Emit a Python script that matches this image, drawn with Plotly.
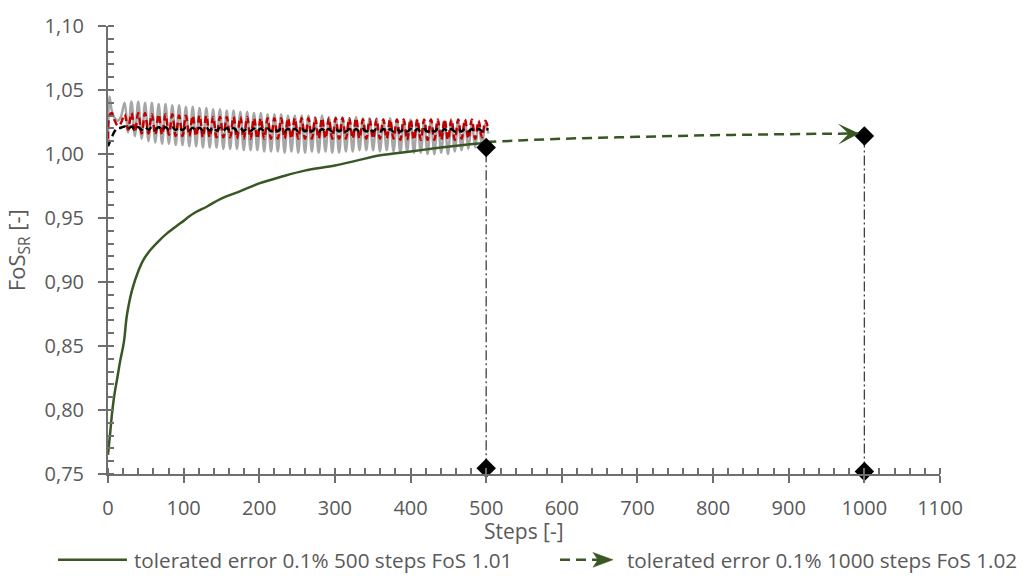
import plotly.graph_objects as go

# FoS_SR over the 500-step run (tolerated error 0.1 %)
steps_500 = [0, 3, 6, 9, 12, 16, 21, 25, 32, 41, 47, 56, 67, 78, 96, 113, 131, 149,
             175, 200, 228, 260, 300, 330, 360, 400, 440, 470, 500]
fos_500 = [0.765, 0.783, 0.801, 0.814, 0.824, 0.838, 0.853, 0.874, 0.894, 0.910, 0.9175,
           0.925, 0.932, 0.938, 0.946, 0.9535, 0.959, 0.965, 0.971, 0.977, 0.982, 0.987,
           0.991, 0.995, 0.999, 1.002, 1.005, 1.007, 1.0085]

# continuation of the run up to 1000 steps
steps_1000 = [500, 550, 600, 650, 700, 750, 800, 850, 900, 950, 993]
fos_1000 = [1.0093, 1.0107, 1.0119, 1.0127, 1.0134, 1.0141, 1.0147, 1.0151, 1.0155,
            1.0158, 1.016]

# oscillating FoS signals during the first 500 steps
steps_osc = [0, 2, 5, 9, 13, 17,
             22, 26.5, 31, 35.5, 40, 44.5, 49, 53.5, 58, 62.5, 67, 71.5, 76, 80.5,
             85, 89.5, 94, 98.5, 103, 107.5, 112, 116.5, 121, 125.5, 130, 134.5, 139, 143.5,
             148, 152.5, 157, 161.5, 166, 170.5, 175, 179.5, 184, 188.5, 193, 197.5,
             202, 206.5, 211, 215.5, 220, 224.5, 229, 233.5, 238, 242.5, 247, 251.5,
             256, 260.5, 265, 269.5, 274, 278.5, 283, 287.5, 292, 296.5, 301, 305.5,
             310, 314.5, 319, 323.5, 328, 332.5, 337, 341.5, 346, 350.5, 355, 359.5,
             364, 368.5, 373, 377.5, 382, 386.5, 391, 395.5, 400, 404.5, 409, 413.5,
             418, 422.5, 427, 431.5, 436, 440.5, 445, 449.5, 454, 458.5, 463, 467.5,
             472, 476.5, 481, 485.5, 490, 494.5, 499, 503]
fos_grey = [1.008, 1.045, 1.034, 1.028, 1.026, 1.029,
            1.040, 1.017, 1.041, 1.014, 1.041, 1.012, 1.040, 1.010, 1.040, 1.009, 1.039, 1.008, 1.039, 1.008,
            1.038, 1.007, 1.038, 1.007, 1.037, 1.006, 1.037, 1.006, 1.036, 1.005, 1.036, 1.005, 1.035, 1.005,
            1.035, 1.004, 1.034, 1.004, 1.034, 1.004, 1.033, 1.003, 1.033, 1.003, 1.032, 1.003,
            1.032, 1.002, 1.031, 1.002, 1.031, 1.002, 1.031, 1.001, 1.030, 1.002, 1.030, 1.001,
            1.030, 1.001, 1.030, 1.002, 1.029, 1.001, 1.030, 1.002, 1.029, 1.001, 1.029, 1.001,
            1.029, 1.002, 1.028, 1.002, 1.029, 1.003, 1.028, 1.003, 1.028, 1.003, 1.028, 1.002,
            1.027, 1.003, 1.028, 1.002, 1.027, 1.001, 1.027, 1.002, 1.027, 1.001, 1.027, 1.001,
            1.026, 1.000, 1.027, 1.000, 1.026, 1.001, 1.026, 1.000, 1.026, 1.002, 1.026, 1.003,
            1.026, 1.004, 1.025, 1.005, 1.025, 1.006, 1.024, 1.016]
fos_red = [1.012, 1.030, 1.032, 1.026, 1.022, 1.024,
           1.031, 1.019, 1.032, 1.017, 1.032, 1.016, 1.032, 1.016, 1.031, 1.015, 1.031, 1.015, 1.031, 1.015,
           1.031, 1.014, 1.030, 1.014, 1.030, 1.014, 1.030, 1.014, 1.030, 1.013, 1.030, 1.013, 1.029, 1.013,
           1.029, 1.013, 1.029, 1.013, 1.029, 1.012, 1.029, 1.012, 1.029, 1.012, 1.028, 1.012,
           1.028, 1.012, 1.028, 1.012, 1.028, 1.012, 1.028, 1.012, 1.028, 1.012, 1.028, 1.012,
           1.028, 1.012, 1.028, 1.012, 1.028, 1.012, 1.028, 1.012, 1.028, 1.012, 1.028, 1.012,
           1.028, 1.012, 1.028, 1.012, 1.028, 1.012, 1.027, 1.012, 1.027, 1.012, 1.027, 1.012,
           1.027, 1.012, 1.027, 1.012, 1.027, 1.011, 1.027, 1.011, 1.027, 1.011, 1.027, 1.011,
           1.027, 1.011, 1.027, 1.011, 1.027, 1.011, 1.027, 1.011, 1.027, 1.011, 1.027, 1.012,
           1.027, 1.012, 1.027, 1.012, 1.026, 1.013, 1.026, 1.019]
fos_black = [1.006, 1.009, 1.013, 1.018, 1.020, 1.0205,
             1.0215, 1.0195, 1.0215, 1.019, 1.021, 1.019, 1.021, 1.019, 1.021, 1.019, 1.021, 1.0188, 1.021, 1.0188,
             1.0208, 1.0188, 1.0208, 1.0185, 1.0208, 1.0185, 1.0205, 1.0185, 1.0205, 1.0185, 1.0205, 1.0183, 1.0205, 1.0183,
             1.0203, 1.0183, 1.0203, 1.018, 1.0203, 1.018, 1.020, 1.018, 1.020, 1.018, 1.020, 1.018,
             1.020, 1.0178, 1.020, 1.0178, 1.0198, 1.0178, 1.0198, 1.0178, 1.0198, 1.0178, 1.0198, 1.0176,
             1.0198, 1.0176, 1.0198, 1.0176, 1.0198, 1.0176, 1.0196, 1.0176, 1.0196, 1.0176, 1.0196, 1.0176,
             1.0196, 1.0176, 1.0196, 1.0176, 1.0196, 1.0175, 1.0196, 1.0175, 1.0196, 1.0175, 1.0196, 1.0175,
             1.0195, 1.0175, 1.0195, 1.0175, 1.0195, 1.0175, 1.0195, 1.0175, 1.0195, 1.0175, 1.0195, 1.0175,
             1.0195, 1.0175, 1.0195, 1.0175, 1.0195, 1.0175, 1.0195, 1.0175, 1.0195, 1.0176, 1.0195, 1.0176,
             1.0195, 1.0177, 1.0196, 1.0178, 1.0196, 1.018, 1.0195, 1.019]

# final FoS at 500 and 1000 steps, with their projection onto the step axis
end_steps = [500, 1000]
end_fos = [1.005, 1.014]
base_fos = [0.7545, 0.752]

legend_labels = ["tolerated error 0.1% 500 steps FoS 1.01",
                 "tolerated error 0.1% 1000 steps FoS 1.02"]

GREEN = "#385723"
TEXT = "#595959"
AXIS = "#6f6f6f"
FONT = "Open Sans, sans-serif"

fig = go.Figure()

fig.add_trace(go.Scatter(x=steps_osc, y=fos_grey, mode="lines", line_shape="spline",
                         line=dict(color="#A6A6A6", width=2.5), showlegend=False))
fig.add_trace(go.Scatter(x=steps_osc, y=fos_red, mode="lines", line_shape="spline",
                         line=dict(color="#C00000", width=2.5, dash="7px,4px"), showlegend=False))
fig.add_trace(go.Scatter(x=steps_osc, y=fos_black, mode="lines", line_shape="spline",
                         line=dict(color="#000000", width=2.5, dash="7px,4px"), showlegend=False))

fig.add_trace(go.Scatter(x=steps_500, y=fos_500, mode="lines", line_shape="spline",
                         line=dict(color=GREEN, width=2.5), showlegend=False))

fig.add_trace(go.Scatter(x=steps_1000, y=fos_1000, mode="lines", line_shape="spline",
                         line=dict(color=GREEN, width=2.5, dash="10px,6px"),
                         showlegend=False))
# stealth arrow head at the end of the extrapolated run
fig.add_annotation(x=steps_1000[-1], y=fos_1000[-1], ax=steps_1000[-2] + 30, ay=fos_1000[-2],
                   xref="x", yref="y", axref="x", ayref="y", text="", showarrow=True,
                   arrowhead=3, arrowsize=1.4, arrowwidth=2.5, arrowcolor=GREEN, standoff=0)

for s, b, e in zip(end_steps, base_fos, end_fos):
    fig.add_trace(go.Scatter(x=[s, s], y=[b, e], mode="lines",
                             line=dict(color="#404040", width=1.3, dash="10px,3px,2px,3px"),
                             showlegend=False))

fig.add_trace(go.Scatter(x=end_steps + end_steps, y=end_fos + base_fos, mode="markers",
                         marker=dict(symbol="diamond", size=15, color="#000000"),
                         cliponaxis=False, showlegend=False))

tickfont = dict(family=FONT, size=20, color=TEXT)
common = dict(showgrid=False, zeroline=False, showline=True, linecolor=AXIS, linewidth=2,
              ticks="outside", tickcolor=AXIS, tickwidth=1.8, tickfont=tickfont)

fig.update_layout(
    width=1029, height=588,
    margin=dict(l=108, r=89, t=20, b=114),
    paper_bgcolor="white", plot_bgcolor="white",
    separators=", ",
    font=dict(family=FONT, color=TEXT),
    xaxis=dict(range=[0, 1100], dtick=100, tick0=0, ticklen=7, ticklabelstandoff=8,
               minor=dict(dtick=20, ticks="inside", ticklen=6, tickcolor=AXIS, tickwidth=1.8),
               **common),
    yaxis=dict(range=[0.75, 1.10], dtick=0.05, tick0=0.75, tickformat=".2f", ticklen=8,
               ticklabelstandoff=10,
               minor=dict(dtick=0.01, ticks="inside", ticklen=6, tickcolor=AXIS, tickwidth=1.8),
               **common),
    # inner half of the crossing major ticks
    xaxis2=dict(overlaying="x", anchor="y", side="bottom", range=[0, 1100], dtick=100, tick0=0,
                ticks="inside", ticklen=6, tickcolor=AXIS, tickwidth=1.8, showticklabels=False,
                showgrid=False, zeroline=False, showline=False, visible=True),
    yaxis2=dict(overlaying="y", anchor="x", side="left", range=[0.75, 1.10], dtick=0.05,
                tick0=0.75, ticks="inside", ticklen=6, tickcolor=AXIS, tickwidth=1.8,
                showticklabels=False, showgrid=False, zeroline=False, showline=False,
                visible=True),
)

# axis titles
fig.add_annotation(text="Steps [-]", xref="paper", yref="paper", x=0.5, y=-0.128,
                   showarrow=False, font=dict(family=FONT, size=21, color=TEXT),
                   xanchor="center", yanchor="middle")
fig.add_annotation(text="FoS<sub>SR</sub> [-]", xref="paper", yref="paper", x=-0.108, y=0.5,
                   textangle=-90, showarrow=False, font=dict(family=FONT, size=22, color=TEXT),
                   xanchor="center", yanchor="middle")

# legend row below the axis
ly = -0.1916
fig.add_shape(type="line", xref="paper", yref="paper", x0=-0.0601, x1=0.0228, y0=ly, y1=ly,
              line=dict(color=GREEN, width=2.5))
fig.add_annotation(text=legend_labels[0], xref="paper", yref="paper", x=0.029, y=ly,
                   showarrow=False, xanchor="left", yanchor="middle",
                   font=dict(family=FONT, size=20.7, color=TEXT))
fig.add_shape(type="line", xref="paper", yref="paper", x0=0.5433, x1=0.5889, y0=ly, y1=ly,
              line=dict(color=GREEN, width=2.5, dash="10px,6px"))
fig.add_shape(type="path", xref="paper", yref="paper",
              path="M 0.6070 -0.1916 L 0.5829 -0.1751 L 0.5889 -0.1916 L 0.5829 -0.2081 Z",
              fillcolor=GREEN, line=dict(color=GREEN, width=0.5))
fig.add_annotation(text=legend_labels[1], xref="paper", yref="paper", x=0.621, y=ly,
                   showarrow=False, xanchor="left", yanchor="middle",
                   font=dict(family=FONT, size=20.7, color=TEXT))

fig.write_html("out.html")
